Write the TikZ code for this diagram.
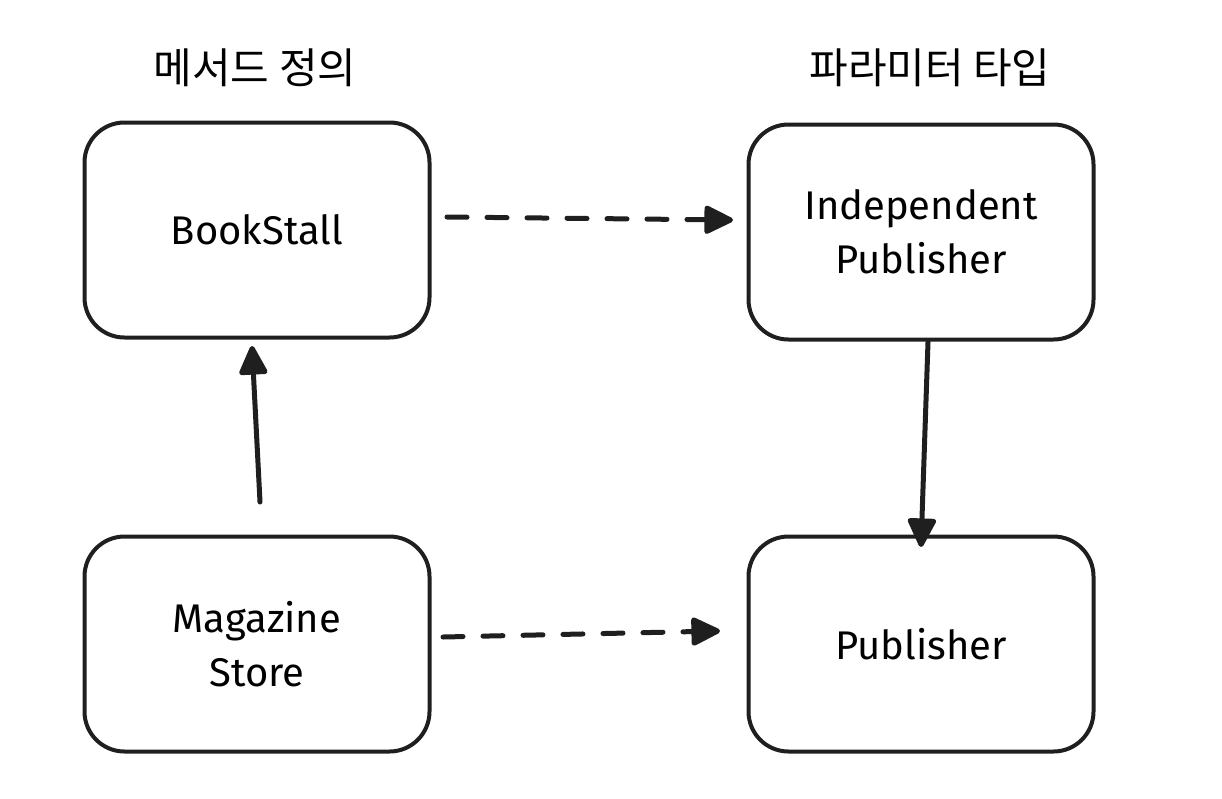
\documentclass[tikz,border=0pt]{standalone}
\usepackage{fontspec}
\setmainfont{Fira Sans}
\newfontfamily\krfont{Noto Sans CJK KR}
\usetikzlibrary{arrows.meta}
\begin{document}
\begin{tikzpicture}[x=1pt,y=-1pt,
  box/.style={draw=black!88,line width=4pt,rounded corners=40pt,minimum width=345pt,minimum height=215pt,align=center,font=\fontsize{40}{54}\selectfont,inner sep=0pt},
  title/.style={font=\krfont\fontsize{42}{46}\selectfont,inner sep=0pt},
  conn/.style={line width=5pt,draw=black!88,line cap=round,-{Triangle[length=32pt,width=30pt,round]}},
  dashconn/.style={conn,dash pattern=on 20pt off 20pt}]
\useasboundingbox (0,0) rectangle (1222,798);
\node[title] (t1) at (255,68) {메서드 정의};
\node[title] (t2) at (930,68) {파라미터 타입};
\node[box] (bs) at (257,230) {BookStall};
\node[box] (ip) at (921,232) {Independent\\Publisher};
\node[box] (ms) at (257,644) {Magazine\\Store};
\node[box] (pb) at (921,644) {Publisher};
\coordinate (a1s) at (447,217);
\coordinate (a1e) at (733,220);
\coordinate (a2s) at (260,502);
\coordinate (a2e) at (252,346);
\coordinate (a3s) at (928,342);
\coordinate (a3e) at (921,547);
\coordinate (a4s) at (443,637);
\coordinate (a4e) at (720,631);
\draw[dashconn] (a1s) -- (a1e);
\draw[conn] (a2s) -- (a2e);
\draw[conn] (a3s) -- (a3e);
\draw[dashconn] (a4s) -- (a4e);
\end{tikzpicture}
\end{document}
